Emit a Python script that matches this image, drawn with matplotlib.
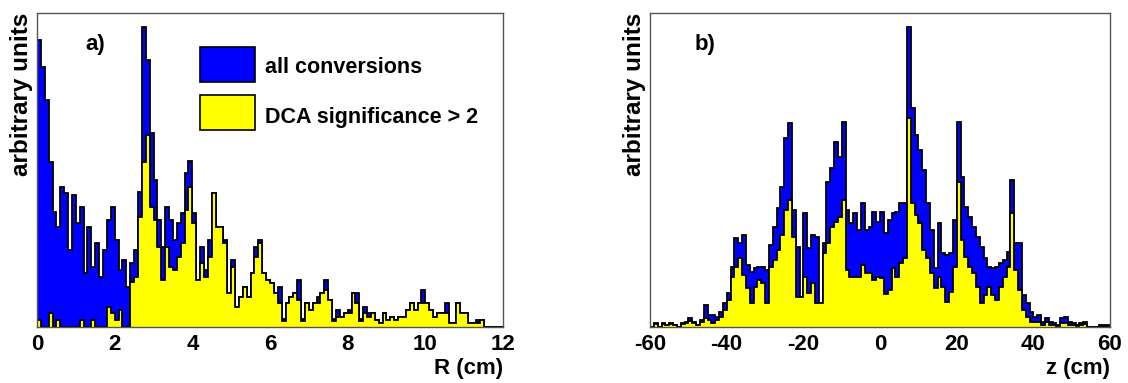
import numpy as np
import matplotlib
matplotlib.use("Agg")
import matplotlib.pyplot as plt
from matplotlib.patches import Rectangle

# panel a) radial distribution, 0.1 cm bins from 0 to 12 cm
r_all = [287, 260, 227, 165, 115, 100, 140, 134, 77, 132,
         104, 120, 54, 100, 60, 84, 50, 77, 107, 120,
         87, 57, 67, 40, 64, 77, 135, 300, 267, 194,
         147, 107, 80, 120, 107, 87, 104, 114, 154, 166,
         114, 47, 80, 57, 87, 134, 100, 100, 87, 34,
         67, 20, 30, 40, 30, 54, 80, 87, 54, 47,
         44, 34, 40, 8, 24, 30, 34, 47, 8, 24,
         17, 24, 30, 34, 47, 27, 8, 17, 10, 14,
         17, 34, 34, 8, 20, 14, 14, 7, 4, 14,
         7, 10, 7, 10, 10, 17, 24, 17, 24, 37,
         24, 17, 10, 14, 14, 24, 4, 4, 24, 14,
         14, 4, 4, 7, 7, 0, 0, 0, 0, 0]
r_dca = [7, 0, 0, 14, 0, 7, 0, 0, 0, 0,
         0, 7, 0, 0, 7, 0, 0, 0, 20, 14,
         7, 17, 0, 0, 45, 50, 110, 165, 192, 120,
         107, 80, 47, 80, 60, 57, 70, 84, 117, 140,
         104, 47, 64, 50, 70, 134, 100, 100, 84, 34,
         60, 20, 30, 40, 30, 54, 70, 84, 54, 47,
         44, 34, 24, 6, 24, 30, 34, 27, 6, 24,
         17, 24, 24, 34, 37, 27, 6, 10, 10, 14,
         14, 34, 24, 6, 14, 10, 14, 7, 4, 14,
         7, 10, 7, 10, 10, 17, 24, 17, 24, 24,
         24, 17, 10, 14, 14, 14, 4, 4, 24, 14,
         14, 4, 4, 4, 7, 0, 0, 0, 0, 0]

# panel b) longitudinal distribution, 1 cm bins from -60 to 60 cm
z_all = [0, 4, 0, 4, 2, 4, 2, 0, 4, 5,
         9, 5, 2, 7, 22, 12, 12, 10, 15, 24,
         34, 60, 89, 84, 92, 62, 55, 59, 60, 60,
         57, 82, 100, 119, 140, 189, 204, 117, 80, 30,
         114, 79, 92, 90, 24, 84, 145, 159, 185, 170,
         205, 117, 104, 114, 97, 124, 97, 100, 115, 105,
         115, 94, 107, 114, 115, 124, 124, 300, 219, 192,
         177, 157, 124, 97, 59, 104, 74, 72, 74, 107,
         205, 150, 120, 110, 100, 90, 80, 69, 60, 59,
         60, 64, 67, 75, 147, 84, 84, 32, 24, 15,
         10, 12, 5, 9, 5, 4, 2, 9, 10, 5,
         4, 2, 4, 5, 0, 0, 0, 2, 2, 2]
z_dca = [0, 3, 0, 3, 2, 3, 2, 0, 3, 4,
         6, 4, 2, 5, 9, 7, 4, 7, 10, 17,
         27, 50, 60, 69, 52, 39, 24, 40, 47, 44,
         24, 60, 67, 77, 92, 117, 127, 90, 30, 30,
         50, 34, 44, 24, 24, 74, 84, 100, 105, 110,
         127, 57, 50, 50, 50, 62, 54, 54, 47, 50,
         49, 33, 37, 59, 50, 64, 69, 209, 124, 112,
         104, 77, 69, 54, 39, 50, 40, 25, 35, 60,
         145, 87, 70, 60, 54, 40, 24, 32, 40, 32,
         27, 40, 50, 60, 114, 57, 37, 17, 10, 5,
         5, 5, 2, 5, 2, 2, 1, 4, 4, 2,
         2, 1, 2, 3, 0, 0, 0, 0, 0, 0]

r_ticks = [0, 2, 4, 6, 8, 10, 12]
z_ticks = [-60, -40, -20, 0, 20, 40, 60]

plt.rcParams["font.family"] = ["Liberation Sans", "DejaVu Sans"]
plt.rcParams["font.weight"] = "bold"
plt.rcParams["axes.labelweight"] = "bold"

BLUE = "#0000ff"
YELLOW = "#ffff00"


def draw_hist(ax, edges, all_vals, dca_vals):
    ax.stairs(all_vals, edges, fill=True, color=BLUE, linewidth=0)
    ax.stairs(all_vals, edges, color="black", linewidth=1.3)
    ax.stairs(dca_vals, edges, fill=True, color=YELLOW, linewidth=0)
    ax.stairs(dca_vals, edges, color="black", linewidth=1.3)
    ax.set_ylim(0, 314)
    ax.set_yticks([])
    ax.tick_params(axis="x", length=0, pad=5, labelsize=16)
    for s in ax.spines.values():
        s.set_color("#555555")
        s.set_linewidth(1.0)
    ax.set_ylabel("arbitrary units", loc="top", fontsize=17.5, labelpad=3)


fig = plt.figure(figsize=(11.28, 3.83), dpi=100)
ax1 = fig.add_axes([37 / 1128, 56 / 383, 466 / 1128, 314 / 383])
ax2 = fig.add_axes([650 / 1128, 56 / 383, 460 / 1128, 314 / 383])

r_edges = np.linspace(0, 12, len(r_all) + 1)
draw_hist(ax1, r_edges, r_all, r_dca)
ax1.set_xlim(0, 12)
ax1.set_xticks(r_ticks)
ax1.set_xticklabels([str(t) for t in r_ticks])
ax1.set_xlabel("R (cm)", loc="right", fontsize=16, labelpad=2)
ax1.text(0.124, 0.9, "a)", transform=ax1.transAxes, fontsize=16,
         ha="center", va="center")

# legend boxes
ax1.add_patch(Rectangle((0.35, 0.78), 0.118, 0.112, transform=ax1.transAxes,
                        facecolor=BLUE, edgecolor="black", linewidth=1.2))
ax1.add_patch(Rectangle((0.35, 0.627), 0.118, 0.112, transform=ax1.transAxes,
                        facecolor=YELLOW, edgecolor="black", linewidth=1.2))
ax1.text(0.489, 0.825, "all conversions", transform=ax1.transAxes,
         fontsize=15.5, va="center", ha="left")
ax1.text(0.489, 0.666, "DCA significance > 2", transform=ax1.transAxes,
         fontsize=15.5, va="center", ha="left")

z_edges = np.linspace(-60, 60, len(z_all) + 1)
draw_hist(ax2, z_edges, z_all, z_dca)
ax2.set_xlim(-60, 60)
ax2.set_xticks(z_ticks)
ax2.set_xticklabels([str(t) for t in z_ticks])
ax2.set_xlabel("z (cm)", loc="right", fontsize=16, labelpad=2)
ax2.text(0.12, 0.9, "b)", transform=ax2.transAxes, fontsize=16,
         ha="center", va="center")

fig.savefig("out.png", dpi=100)
